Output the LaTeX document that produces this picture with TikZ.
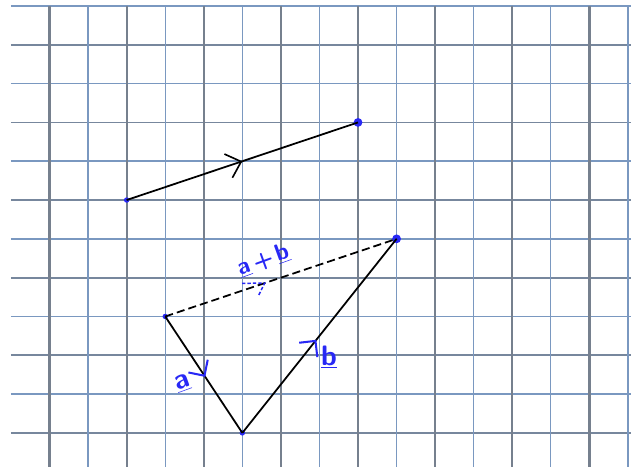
\documentclass[tikz,border=0pt]{standalone}
\usetikzlibrary{arrows.meta,decorations.markings}

\definecolor{gridblue}{RGB}{122,152,192}
\definecolor{gridgray}{RGB}{118,128,142}
\definecolor{pen}{RGB}{40,40,245}

\begin{document}
\begin{tikzpicture}[
  x=1cm, y=1.0065cm,
  thin line/.style={draw=gridblue, line width=1pt},
  thick line/.style={draw=gridgray, line width=1.7pt},
  row line/.style={draw=gridgray!70!gridblue, line width=1.3pt},
  vec/.style={draw=black, line width=1.3pt},
  dot/.style={circle, fill=pen, inner sep=0pt, minimum size=4pt},
  big dot/.style={dot, minimum size=6.5pt},
  lbl/.style={text=pen, font=\sffamily\bfseries\huge, inner sep=1pt},
  tip at/.style={postaction={decorate}, decoration={markings,
    mark=at position #1 with {\arrow[black, line width=1.2pt]{Straight Barb[length=3.5mm, width=6.5mm]}}}},
  pen tip at/.style={postaction={decorate}, decoration={markings,
    mark=at position #1 with {\arrow[pen, line width=1.5pt]{Straight Barb[length=3mm, width=6mm]}}}},
]
\useasboundingbox (-0.285,0.1546) rectangle (16.08,-11.855);

% squared paper
\foreach \r in {0,2,...,10} \draw[row line, draw=gridblue] (0,-\r) -- (16.1,-\r);
\foreach \r in {1,3,...,11} \draw[row line] (0,-\r) -- (16.1,-\r);
\foreach \c in {2,4,...,16} \draw[thin line] (\c,0) -- (\c,-12);
\foreach \c in {1,3,...,15} \draw[thick line] (\c,0) -- (\c,-12);

% points
\node[dot] (start) at (3,-5) {};
\node[big dot] (end) at (9,-3) {};
\node[dot] (A) at (4,-8) {};
\node[dot] (B) at (6,-11) {};
\node[big dot] (C) at (10,-6) {};

% vectors
\draw[vec, tip at=0.5] (start.center) -- (end.center);
\draw[vec, pen tip at=0.52] (A.center) -- (B.center);
\draw[vec, pen tip at=0.48] (B.center) -- (C.center);
\draw[vec, dashed, dash pattern=on 6pt off 3pt,
  postaction={decorate}, decoration={markings, mark=at position 0.43 with
  {\draw[pen, line width=1.1pt, dash pattern=on 2.5pt off 1.5pt]
    (-0.56,0.18) -- (0,0) -- (-0.25,-0.25);}}] (A.center) -- (C.center);

% labels
\node[lbl, rotate=20] (la) at (4.45,-9.72) {\underline{a}};
\node[lbl] (lb) at (8.25,-9.05) {\underline{b}};
\node[lbl, font=\sffamily\bfseries\LARGE, rotate=20] (lab) at (6.55,-6.55) {\underline{a}\,+\,\underline{b}};
\end{tikzpicture}
\end{document}
